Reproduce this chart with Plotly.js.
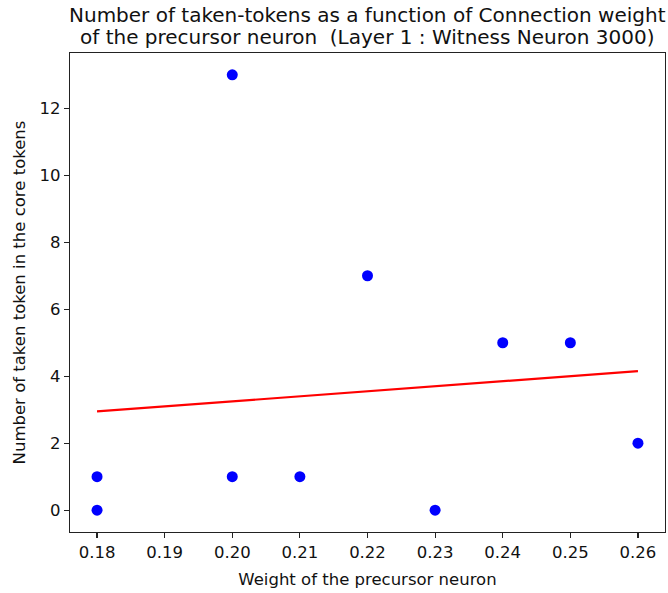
<!DOCTYPE html>
<html>
<head>
<meta charset="utf-8">
<script src="https://cdn.plot.ly/plotly-3.0.1.min.js"></script>
<style>html,body{margin:0;padding:0;background:#fff;}#chart{width:668px;height:593px;}</style>
</head>
<body>
<div id="chart"></div>
<script>
// Scatter data (connection weight vs. number of taken tokens)
const weights = [0.18, 0.18, 0.20, 0.20, 0.21, 0.22, 0.23, 0.24, 0.25, 0.26];
const takenTokens = [1, 0, 13, 1, 1, 7, 0, 5, 5, 2];
// Fitted trend line endpoints
const fitX = [0.18, 0.26];
const fitY = [2.95, 4.15];
const xTicks = [0.18, 0.19, 0.20, 0.21, 0.22, 0.23, 0.24, 0.25, 0.26];
const yTicks = [0, 2, 4, 6, 8, 10, 12];
const titleLines = [
  "Number of taken-tokens as a function of Connection weight",
  "of the precursor neuron  (Layer 1 : Witness Neuron 3000)"
];

const FONT = "DejaVu Sans, sans-serif";
const axisColor = "#222";
const textColor = "#111";
const TS = 16.5;

const traces = [
  {
    x: weights, y: takenTokens, type: "scatter", mode: "markers",
    marker: {color: "#0000ff", size: 11, line: {width: 0}},
    showlegend: false, hoverinfo: "x+y"
  },
  {
    x: fitX, y: fitY, type: "scatter", mode: "lines",
    line: {color: "#ff0000", width: 2.2},
    showlegend: false
  }
];

const layout = {
  width: 668, height: 593,
  paper_bgcolor: "#fff", plot_bgcolor: "#fff",
  margin: {l: 70, r: 3, t: 53, b: 61, pad: 0},
  font: {family: FONT, color: textColor, size: TS},
  annotations: titleLines.map((t, i) => ({
    text: t, showarrow: false,
    xref: "paper", x: 0.5, xanchor: "center",
    yref: "paper", y: 1 + (38 - i * 22) / 479, yanchor: "middle",
    font: {family: FONT, size: 20, color: textColor}
  })),
  xaxis: {
    range: [0.176, 0.264],
    tickvals: xTicks, ticktext: xTicks.map(v => v.toFixed(2)),
    showgrid: false, zeroline: false,
    showline: true, mirror: true, linecolor: axisColor, linewidth: 1.2,
    ticks: "outside", ticklen: 5, tickwidth: 1.2, tickcolor: axisColor,
    tickfont: {family: FONT, size: TS, color: textColor},
    title: {text: "Weight of the precursor neuron", font: {family: FONT, size: TS, color: textColor}, standoff: 12},
    automargin: false
  },
  yaxis: {
    range: [-0.65, 13.65],
    tickvals: yTicks,
    showgrid: false, zeroline: false,
    showline: true, mirror: true, linecolor: axisColor, linewidth: 1.2,
    ticks: "outside", ticklen: 5, tickwidth: 1.2, tickcolor: axisColor,
    tickfont: {family: FONT, size: TS, color: textColor},
    title: {text: "Number of taken token in the core tokens", font: {family: FONT, size: TS, color: textColor}, standoff: 9},
    automargin: false
  }
};

Plotly.newPlot("chart", traces, layout, {displayModeBar: false, staticPlot: true});
</script>
</body>
</html>
